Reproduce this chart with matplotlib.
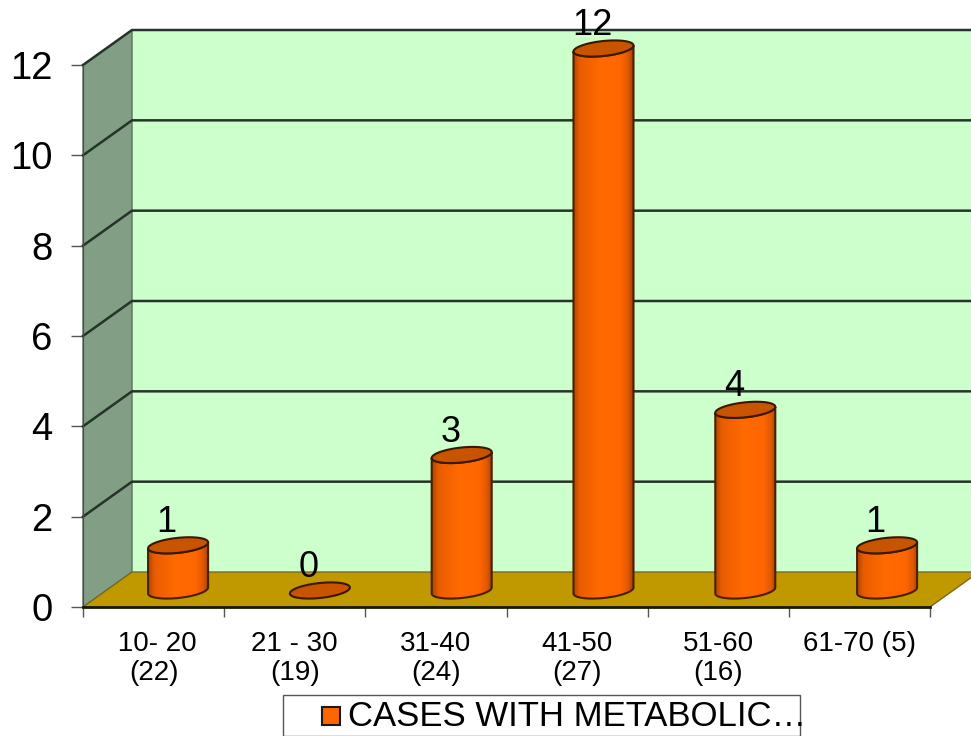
import numpy as np
import matplotlib
matplotlib.use('Agg')
import matplotlib.pyplot as plt
from matplotlib.patches import Polygon, Rectangle
from matplotlib.colors import LinearSegmentedColormap

plt.rcParams['font.family'] = ['Liberation Sans', 'DejaVu Sans']

# Data
categories = [' 10- 20\n(22)', '21 - 30\n(19)', '31-40\n(24)', '41-50\n(27)', '51-60\n(16)', '61-70 (5)']
cases = [1, 0, 3, 12, 4, 1]
y_ticks = [0, 2, 4, 6, 8, 10, 12]
legend_label = 'CASES WITH METABOLIC…'

W, H = 971, 736
# front plane of the fake 3D box, in pixels
LEFT, RIGHT, TOP, BOTTOM = 83, 930, 65, 607

fig = plt.figure(figsize=(W / 100, H / 100), dpi=100)
ax = fig.add_axes([LEFT / W, 1 - BOTTOM / H, (RIGHT - LEFT) / W, (BOTTOM - TOP) / H])
ax.set_xlim(0, len(categories))
ax.set_ylim(0, 12)
ax.patch.set_visible(False)

# pixel sizes turned into data units
ux = (RIGHT - LEFT) / len(categories)
uy = (BOTTOM - TOP) / 12
dx = 49 / ux   # depth offset
dy = 35 / uy
n = len(categories)


def shape(points, **kw):
    p = Polygon(points, closed=True, clip_on=False, **kw)
    ax.add_patch(p)
    return p


# Walls and floor
shape([(dx, dy), (n + dx, dy), (n + dx, 12 + dy), (dx, 12 + dy)], fc='#CCFFCC', ec='none', zorder=1)
shape([(0, 0), (dx, dy), (dx, 12 + dy), (0, 12)], fc='#829E84', ec='#5f6f5f', lw=1, zorder=2)
shape([(0, 0), (n, 0), (n + dx, dy), (dx, dy)], fc='#C09800', ec='#7a6a20', lw=1, zorder=2)

# Gridlines, going along the side wall and the back wall
for v in y_ticks[1:]:
    ax.plot([0, dx, n + dx], [v, v + dy, v + dy], color='#26332a', lw=1.8,
            clip_on=False, zorder=3, solid_joinstyle='miter')

# Cylinder look
body_cmap = LinearSegmentedColormap.from_list(
    'body', [(0, '#B04800'), (0.1, '#E85C00'), (0.45, '#FF6A00'),
             (0.8, '#FF6600'), (0.93, '#E05800'), (1, '#A84400')])
a = 30 / ux   # half width
b = 7.5 / uy  # half height of the ellipse
s = 3 / uy    # tilt, right end sits higher
t = np.linspace(0, 2 * np.pi, 121)
t_low = np.linspace(np.pi, 2 * np.pi, 61)


def ellipse_x(c, ang):
    return c + a * np.cos(ang)


def ellipse_y(c, ang):
    return c + b * np.sin(ang) + s * np.cos(ang)


for i, v in enumerate(cases):
    # the bars sit a touch wider apart than the ticks
    cx = i * 1.0045 + 0.5 + dx / 2
    base = dy / 2 - 1 / uy
    top = base + v
    if v > 0:
        xs = np.r_[ellipse_x(cx, t_low), ellipse_x(cx, t_low[::-1])]
        ys = np.r_[ellipse_y(base, t_low), ellipse_y(top, t_low[::-1])]
        outline = shape(np.c_[xs, ys], fc='none', ec='#4a1e00', lw=1.5, zorder=5)
        im = ax.imshow(np.linspace(0, 1, 64).reshape(1, -1), cmap=body_cmap, aspect='auto',
                       extent=(cx - a, cx + a, base - 1, top + 1), zorder=4)
        im.set_clip_box(fig.bbox)
        im.set_clip_path(outline)
    shape(np.c_[ellipse_x(cx, t), ellipse_y(top, t)], fc='#C85400', ec='#3a1800', lw=1.5, zorder=6)
    ax.annotate(str(v), xy=(cx, top), xytext=(-11.5, 23), textcoords='offset pixels',
                ha='center', va='center', fontsize=26, color='black', zorder=7,
                annotation_clip=False)

ax.set_xlim(0, n)
ax.set_ylim(0, 12)

# Axes
for side in ['top', 'right']:
    ax.spines[side].set_visible(False)
ax.spines['left'].set_color('#4a4a4a')
ax.spines['left'].set_zorder(4)
ax.spines['bottom'].set_color('#1a1a00')
ax.spines['bottom'].set_linewidth(2)
ax.spines['bottom'].set_zorder(4)

ax.set_yticks(y_ticks)
ax.tick_params(axis='y', length=8.5, width=1, color='#555555', pad=13.5, labelsize=27.5)
ax.set_xticks(range(n + 1))
ax.set_xticks([i + 0.5 for i in range(n)], minor=True)
ax.set_xticklabels([])
ax.set_xticklabels(categories, minor=True, fontsize=20, linespacing=1.15)
ax.tick_params(axis='x', which='major', length=7, width=1, color='#555555')
ax.tick_params(axis='x', which='minor', length=0, pad=17.5)

# Legend box, the text runs past the frame like in the original
fig.add_artist(Rectangle((283 / W, 0), (800 - 283) / W, 41 / H, transform=fig.transFigure,
                         fc='white', ec='#555555', lw=1))
fig.add_artist(Rectangle((322 / W, 1 - 725 / H), 18 / W, 18 / H, transform=fig.transFigure,
                         fc='#FF6600', ec='#1a1a1a', lw=1.5))
fig.text(348 / W, 1 - 716 / H, legend_label, fontsize=25, ha='left', va='center', color='black')

fig.savefig('out.png', dpi=100)
